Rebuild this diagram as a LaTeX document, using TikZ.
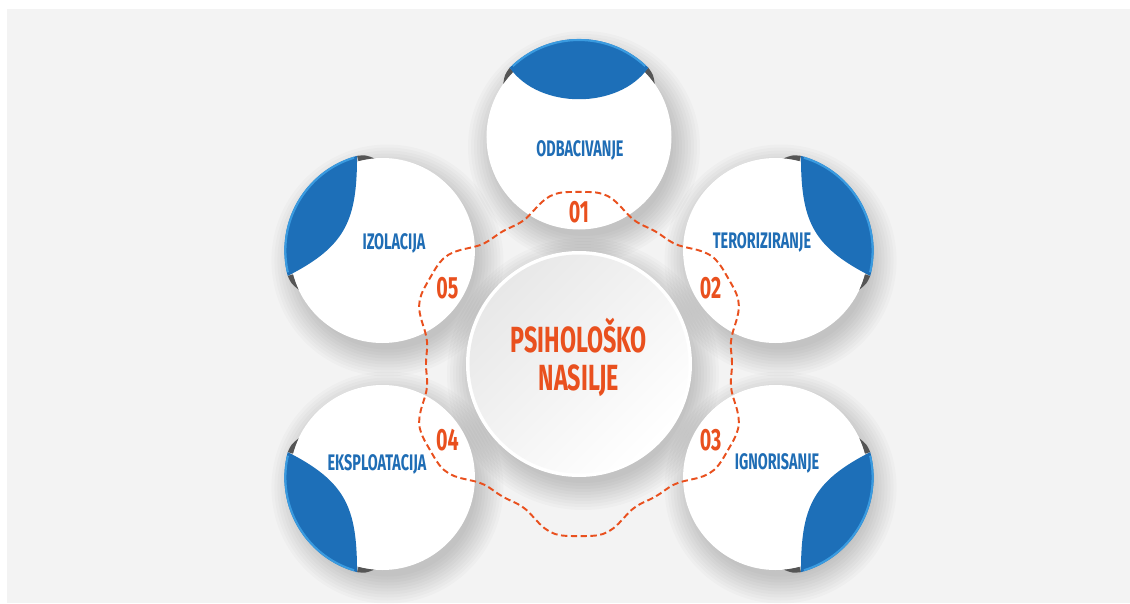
\documentclass[tikz,border=0pt]{standalone}
\usepackage{fontspec}
\usepackage{tikz}
\usetikzlibrary{calc}
\newfontfamily\bebas[FakeStretch=0.64]{Fira Sans}
\definecolor{bgGray}{HTML}{F3F3F3}
\definecolor{capBlue}{HTML}{1D6FB8}
\definecolor{rimBlue}{HTML}{3A9BE0}
\definecolor{txtBlue}{HTML}{1F6DB5}
\definecolor{numOrange}{HTML}{E9501E}
\definecolor{tabGray}{HTML}{555555}

\tikzset{
  circshadow/.style={black, opacity=0.018},
  circtext/.style={text=txtBlue, font=\bebas\bfseries\fontsize{12.8}{14}\selectfont},
  numtext/.style={text=numOrange, font=\bebas\bfseries\fontsize{17.5}{19}\selectfont},
  dashline/.style={numOrange, line width=1.1pt, dash pattern=on 3.6pt off 2pt},
}

% blue peeled cap: center, rotation, yscale, inner curve options
\newcommand{\bluecap}[4]{%
  \begin{scope}[shift={(#1)}, rotate=#2, yscale=#3]
    \fill[tabGray] (45:1.96) .. controls (50:1.94) .. (55:1.85) arc[start angle=55, end angle=45, radius=1.85] -- cycle;
    \fill[tabGray] (-45:1.96) .. controls (-50:1.94) .. (-55:1.85) arc[start angle=-55, end angle=-45, radius=1.85] -- cycle;
    \fill[capBlue] (45:1.96) arc[start angle=45, end angle=-45, radius=1.96] to[#4] (45:1.96) -- cycle;
    \draw[rimBlue, line width=1.2pt] (43:1.94) arc[start angle=43, end angle=-43, radius=1.94];
  \end{scope}}

\begin{document}
\begin{tikzpicture}
  % background
  \useasboundingbox (-11.58,-4.78) rectangle (11.02,7.28);
  \fill[white] (-11.58,-4.78) rectangle (11.02,7.28);
  \fill[bgGray] (-11.44,-4.78) rectangle (11.02,7.10);

  \foreach \ang/\nm in {90/c1, 30/c2, -30/c3, 210/c4, 150/c5}
    \coordinate (\nm) at (\ang:4.54);
  \coordinate (mid) at (0,0);

  % shadows
  \foreach \nm in {c1,c2,c3,c4,c5}
    \foreach \k in {0,...,9}
      \fill[circshadow] ($(\nm)+(0.1,-0.2)$) circle ({1.78+0.06*\k});
  \foreach \k in {0,...,9}
    \fill[circshadow] ($(mid)+(0.08,-0.2)$) circle ({2.18+0.06*\k});

  % circles
  \foreach \nm in {c1,c2,c3,c4,c5}
    \fill[white] (\nm) circle (1.85);
  \bluecap{c1}{90}{1}{out=145, in=-145, looseness=0.95}
  \bluecap{c2}{30}{1}{out=123, in=-120, looseness=1.2}
  \bluecap{c3}{-30}{-1}{out=123, in=-120, looseness=1.2}
  \bluecap{c4}{210}{1}{out=123, in=-120, looseness=1.2}
  \bluecap{c5}{150}{-1}{out=123, in=-120, looseness=1.2}

  % center circle
  \fill[white] (mid) circle (2.26);
  \shade[shading=axis, top color=black!9, bottom color=white, shading angle=45] (mid) circle (2.19);

  % dashed ring
  \draw[dashline] plot[domain=0:360, samples=181] (\x:{0.02*(162.5+11.4*(-cos(6*\x)+cos(18*\x)/6))}) -- cycle;

  % texts
  \node[text=numOrange, font=\bebas\bfseries\fontsize{20.7}{22}\selectfont, align=center] (title) at (0,0.13) {PSIHOLOŠKO\\NASILJE};
  \node[circtext] (t1) at (0.02,4.28) {ODBACIVANJE};
  \node[circtext] (t2) at (3.66,2.44) {TERORIZIRANJE};
  \node[circtext] (t3) at (3.96,-1.98) {IGNORISANJE};
  \node[circtext] (t4) at (-4.04,-2.0) {EKSPLOATACIJA};
  \node[circtext] (t5) at (-3.7,2.42) {IZOLACIJA};
  \node[numtext] (n1) at (90:3.04) {01};
  \node[numtext] (n2) at (30:3.04) {02};
  \node[numtext] (n3) at (-30:3.04) {03};
  \node[numtext] (n4) at (210:3.04) {04};
  \node[numtext] (n5) at (150:3.04) {05};
\end{tikzpicture}
\end{document}
